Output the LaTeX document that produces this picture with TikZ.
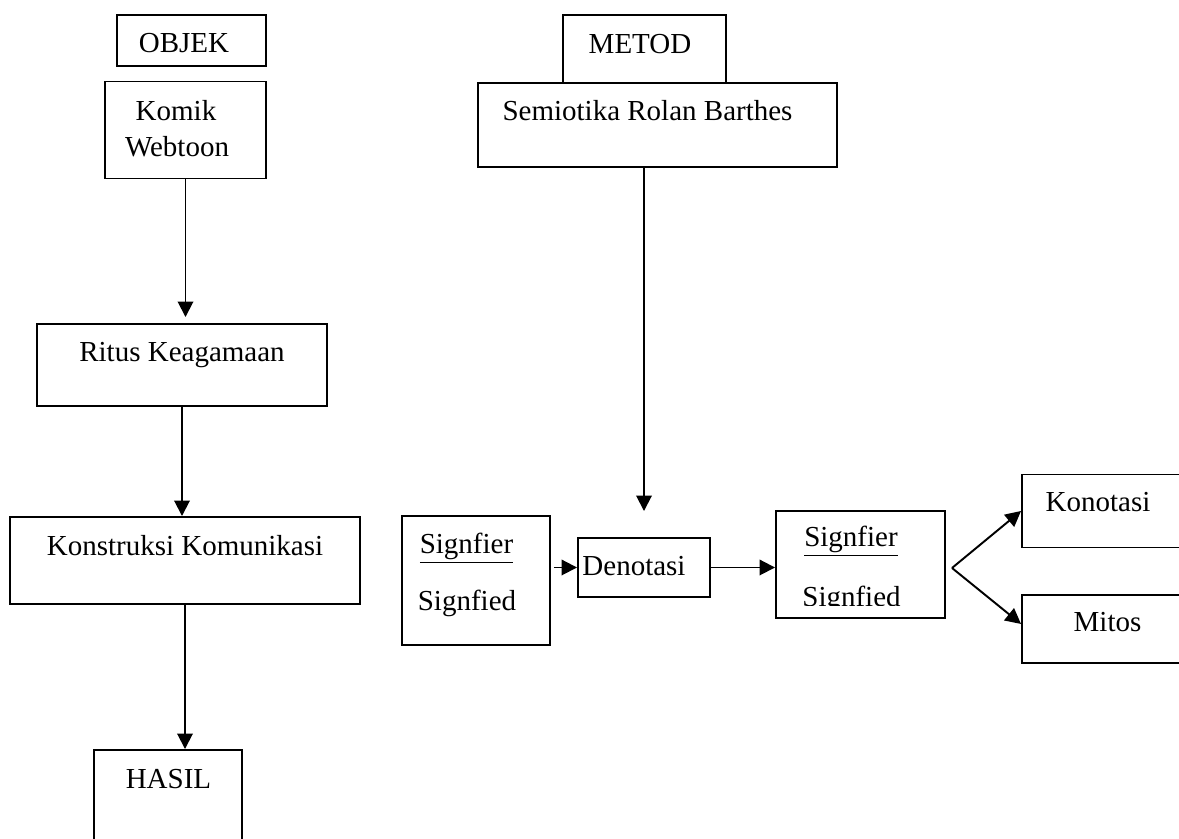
\documentclass[tikz,border=0pt]{standalone}
\usepackage{fontspec}
\setmainfont{Liberation Serif}
\usetikzlibrary{arrows.meta,calc}

\begin{document}
\begin{tikzpicture}[
        font=\fontsize{16.5}{20}\selectfont,
        line width=1.1pt,
        >={Triangle[length=0.31cm,width=0.31cm]},
        box/.style={draw, rectangle, inner sep=0pt},
        lbl/.style={anchor=base, inner sep=0pt}
    ]
        \useasboundingbox (0,0) rectangle (23.58,16.78);

        % Left column: object and result
        \node[box, minimum width=2.98cm, minimum height=1.02cm] (objek) at (3.83,15.97) {};
        \node[lbl] (objek-t) at (3.68,15.72) {OBJEK};

        \node[box, minimum width=3.22cm, minimum height=1.94cm] (komik) at (3.71,14.18) {};
        \node[lbl] (komik-t1) at (3.52,14.36) {Komik};
        \node[lbl] (komik-t2) at (3.54,13.64) {Webtoon};

        \node[box, minimum width=5.8cm, minimum height=1.64cm] (ritus) at (3.64,9.48) {};
        \node[lbl] (ritus-t) at (3.64,9.54) {Ritus Keagamaan};

        \node[box, minimum width=7.0cm, minimum height=1.74cm] (konstruksi) at (3.70,5.57) {};
        \node[lbl] (konstruksi-t) at (3.70,5.66) {Konstruksi Komunikasi};

        \node[box, minimum width=2.96cm, minimum height=2.2cm] (hasil) at (3.36,0.68) {};
        \node[lbl] (hasil-t) at (3.37,1.00) {HASIL};

        % Right part: method
        \node[box, minimum width=3.26cm, minimum height=1.36cm] (metod) at (12.89,15.80) {};
        \node[lbl] (metod-t) at (12.80,15.70) {METOD};

        \node[box, fill=white, minimum width=7.18cm, minimum height=1.68cm] (semiotika) at (13.15,14.28) {};
        \node[lbl] (semiotika-t) at (12.95,14.36) {Semiotika Rolan Barthes};

        % First sign
        \node[box, minimum width=2.96cm, minimum height=2.58cm] (sign1) at (9.52,5.17) {};
        \node[lbl] (sign1-t1) at (9.33,5.70) {\underline{Signfier}};
        \node[lbl] (sign1-t2) at (9.34,4.56) {Signfied};

        \node[box, minimum width=2.64cm, minimum height=1.18cm] (denotasi) at (12.88,5.43) {};
        \node[lbl] (denotasi-t) at (12.68,5.26) {Denotasi};

        % Second sign (lower line cut by the box)
        \node[box, minimum width=3.38cm, minimum height=2.14cm] (sign2) at (17.21,5.49) {};
        \node[lbl] (sign2-t1) at (17.02,5.84) {\underline{Signfier}};
        \begin{scope}
            \clip (15.6,4.66) rectangle (18.8,6.4);
            \node[lbl] (sign2-t2) at (17.03,4.64) {Signfied};
        \end{scope}

        \node[box, minimum width=3.56cm, minimum height=1.46cm] (konotasi) at (22.22,6.56) {};
        \node[lbl] (konotasi-t) at (21.96,6.54) {Konotasi};

        \node[box, minimum width=3.56cm, minimum height=1.36cm] (mitos) at (22.22,4.20) {};
        \node[lbl] (mitos-t) at (22.15,4.14) {Mitos};

        % Arrows of the left column
        \draw[->, shorten >=0.12cm] (komik.south) -- (ritus.north -| komik.south);
        \draw[->] (ritus.south) -- (ritus.south |- konstruksi.north);
        \draw[->] (konstruksi.south) -- (konstruksi.south |- hasil.north);

        % Arrows of the right part
        \draw[->, shorten >=0.52cm] (semiotika.south -| denotasi.north) -- (denotasi.north);
        \draw[->, shorten <=0.06cm] (denotasi.west -| sign1.east) -- (denotasi.west);
        \draw[->] (denotasi.east) -- (denotasi.east -| sign2.west);

        % Fork to connotation and myth
        \coordinate (fork) at (19.04,5.42);
        \draw[->] (fork) -- (konotasi.west);
        \draw[->] (fork) -- ($(mitos.west)+(0,0.1)$);
    \end{tikzpicture}
\end{document}
